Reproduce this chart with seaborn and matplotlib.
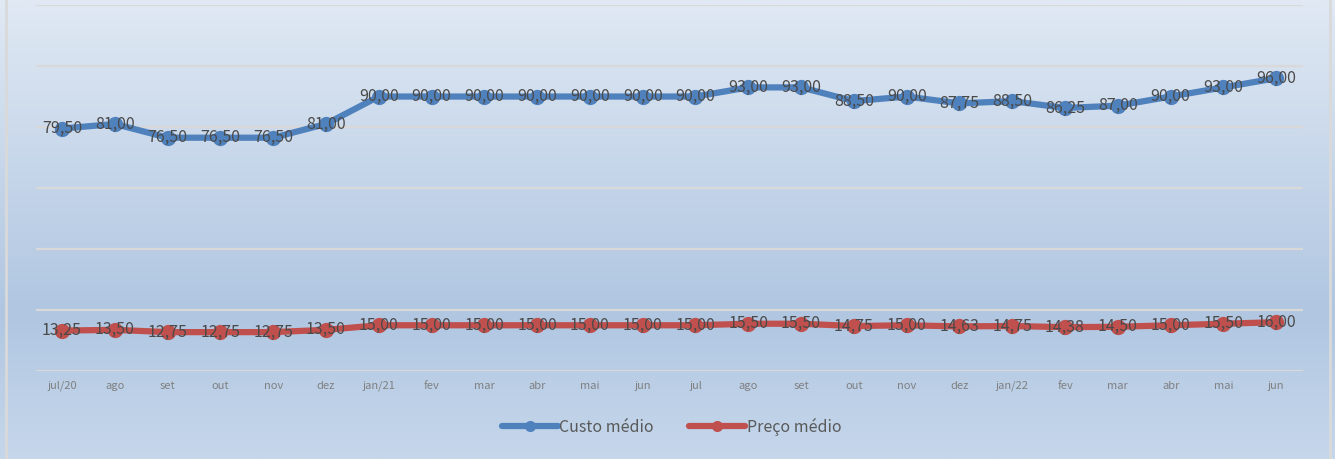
# Custo médio vs Preço médio - linha mensal (jul/20 a jun/22)

import numpy as np
import pandas as pd
import seaborn as sns
import matplotlib.pyplot as plt
from matplotlib.colors import LinearSegmentedColormap
from matplotlib.lines import Line2D

# ---------------------------------------
# Dados
# ---------------------------------------
meses = ["jul/20", "ago", "set", "out", "nov", "dez", "jan/21", "fev", "mar", "abr",
         "mai", "jun", "jul", "ago", "set", "out", "nov", "dez", "jan/22", "fev",
         "mar", "abr", "mai", "jun"]
custo_medio = [79.50, 81.00, 76.50, 76.50, 76.50, 81.00, 90.00, 90.00, 90.00, 90.00,
               90.00, 90.00, 90.00, 93.00, 93.00, 88.50, 90.00, 87.75, 88.50, 86.25,
               87.00, 90.00, 93.00, 96.00]
preco_medio = [13.25, 13.50, 12.75, 12.75, 12.75, 13.50, 15.00, 15.00, 15.00, 15.00,
               15.00, 15.00, 15.00, 15.50, 15.50, 14.75, 15.00, 14.63, 14.75, 14.38,
               14.50, 15.00, 15.50, 16.00]

df = pd.DataFrame({
    "pos": list(range(len(meses))) * 2,
    "valor": custo_medio + preco_medio,
    "serie": ["Custo médio"] * len(meses) + ["Preço médio"] * len(meses),
})

cores = {"Custo médio": "#4f81bd", "Preço médio": "#c0504d"}

# ---------------------------------------
# Figura
# ---------------------------------------
sns.set_theme(style="white")
plt.rcParams["font.family"] = ["Noto Sans CJK JP", "DejaVu Sans"]

fig = plt.figure(figsize=(13.35, 4.59), dpi=100)

# fundo em degradê
bg = fig.add_axes([0, 0, 1, 1], zorder=0)
grad = LinearSegmentedColormap.from_list(
    "fundo", [(0, "#e0e9f4"), (0.68, "#b0c6e1"), (1, "#c6d7eb")])
bg.imshow(np.linspace(0, 1, 256).reshape(-1, 1), aspect="auto", cmap=grad,
          extent=[0, 1, 0, 1], origin="upper")
bg.set_xlim(0, 1)
bg.set_ylim(0, 1)
bg.axvline(0.0047, color="#d9d9d9", lw=2)
bg.axvline(0.9963, color="#d9d9d9", lw=2)
bg.axis("off")

ax = fig.add_axes([0.0267, 0.1917, 0.949, 0.7973], zorder=1)
ax.patch.set_alpha(0)

sns.lineplot(data=df, x="pos", y="valor", hue="serie", palette=cores,
             marker="o", markersize=11, markeredgewidth=0, linewidth=4.5,
             sort=False, legend=False, ax=ax)

for nome, vals in [("Custo médio", custo_medio), ("Preço médio", preco_medio)]:
    for i, v in enumerate(vals):
        ax.text(i, v, f"{v:.2f}".replace(".", ","), ha="center", va="center",
                fontsize=11.5, color="#4a4a4a", zorder=5)

ax.set_xlim(-0.5, len(meses) - 0.5)
ax.set_ylim(0, 120)
ax.set_yticks(range(0, 121, 20))
ax.yaxis.grid(True, color="#d9d9d9", lw=1.6)
ax.set_axisbelow(True)
ax.tick_params(axis="y", left=False, labelleft=False)
ax.set_xticks(range(len(meses)))
ax.set_xticklabels(meses, fontsize=8, color="#808080")
ax.tick_params(axis="x", length=0, pad=7)
ax.set_xlabel("")
ax.set_ylabel("")
for s in ax.spines.values():
    s.set_visible(False)

handles = [Line2D([], [], color=cores[k], lw=4.5, marker="o", markersize=8,
                  markeredgewidth=0) for k in cores]
fig.legend(handles, list(cores), loc="center", bbox_to_anchor=(0.503, 0.07),
           ncol=2, frameon=False, fontsize=11.5, labelcolor="#595959",
           handlelength=3.5, handletextpad=0.1, columnspacing=2.2)

fig.savefig("out.png", dpi=100)
